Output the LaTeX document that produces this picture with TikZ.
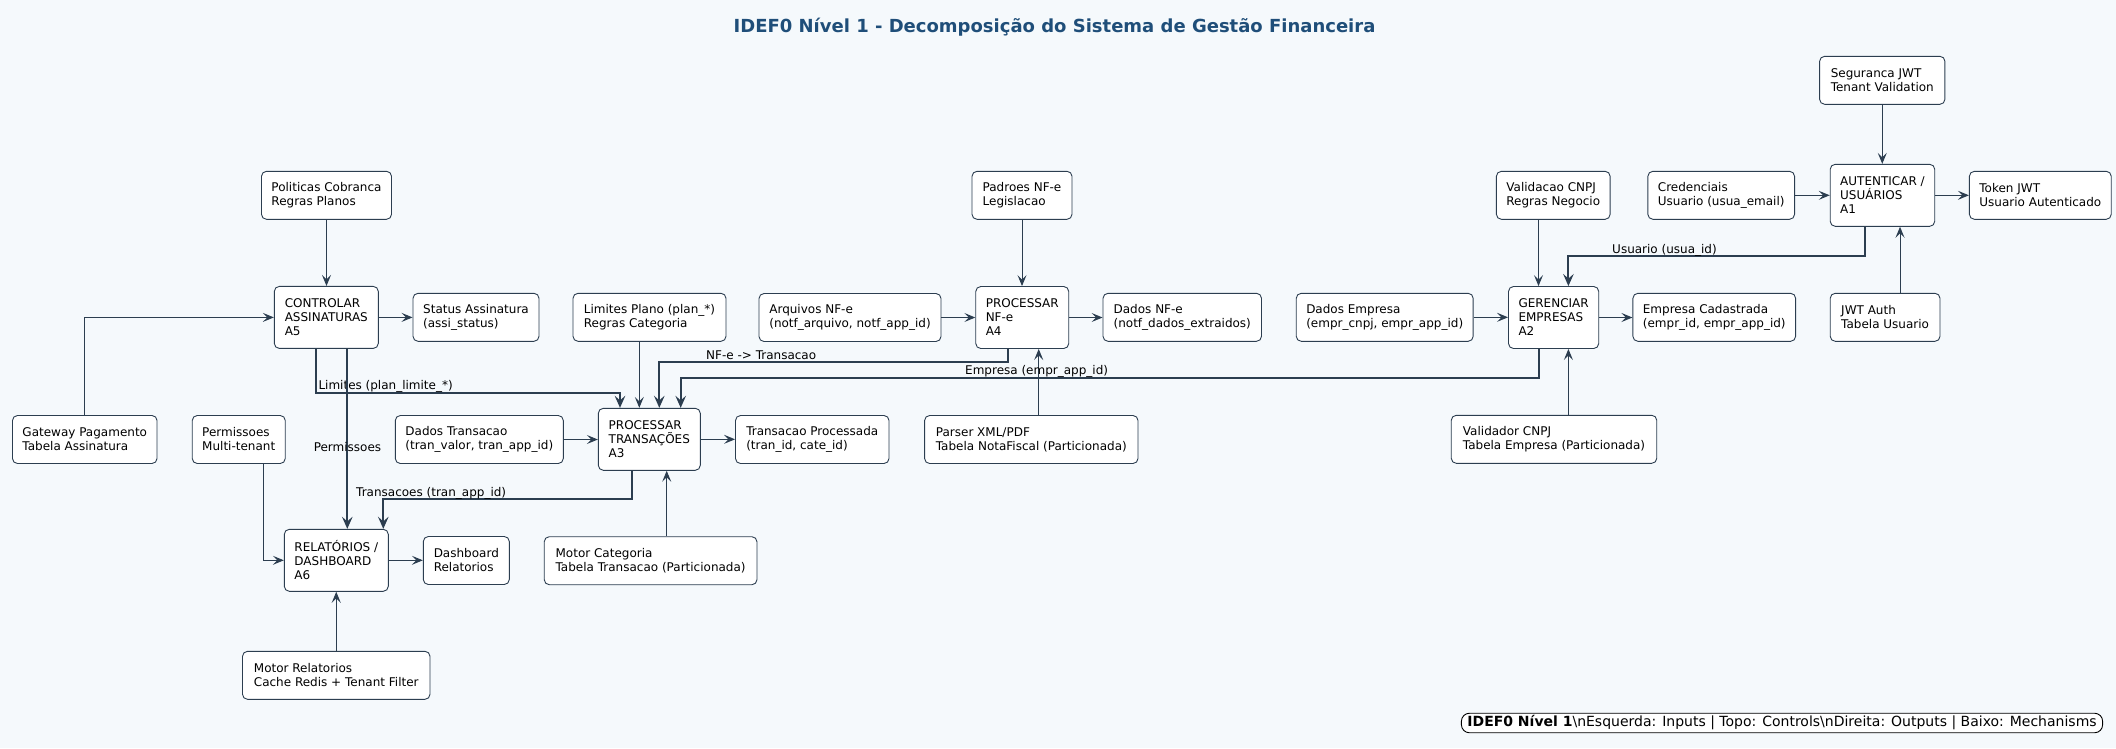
\documentclass[tikz,border=0pt]{standalone}
\usepackage{fontspec}
\setmainfont{DejaVu Sans}
\usetikzlibrary{arrows.meta,calc}
\definecolor{bgc}{HTML}{F5F9FC}
\definecolor{linec}{HTML}{2C3E50}
\definecolor{titlec}{HTML}{1F4E79}
\newcommand{\ibox}[6]{\node[box,minimum width=#4pt,minimum height=#5pt] (#1) at (#2,#3) {#6};}
\begin{document}
\begin{tikzpicture}[x=1pt,y=-1pt,
  box/.style={draw=linec,fill=white,rounded corners=5pt,line width=0.9pt,
    align=left,inner xsep=10pt,inner ysep=3pt,
    font=\fontsize{12}{14}\selectfont,text=black},
  arr/.style={draw=linec,line width=1pt,-{Stealth[length=11pt,width=9pt,inset=4.5pt]}},
  tarr/.style={draw=linec,line width=2pt,-{Stealth[length=12pt,width=10.5pt,inset=4.5pt]}},
  lbl/.style={font=\fontsize{12}{14}\selectfont,text=black,inner sep=0pt},
  legendbox/.style={draw=black,fill=white,rounded corners=8pt,line width=0.9pt,
    inner xsep=6pt,inner ysep=2.5pt,font=\fontsize{14}{16}\selectfont,text=black}]
\fill[bgc] (0,0) rectangle (2116,748);
\useasboundingbox (0,0) rectangle (2116,748);

\node[font=\bfseries\fontsize{18}{22}\selectfont,text=titlec] (title) at (1054.5,27) {IDEF0 Nível 1 - Decomposição do Sistema de Gestão Financeira};

% A5 group
\ibox{pol}{326.5}{195.3}{129}{48}{Politicas Cobranca\\Regras Planos}
\ibox{a5}{326.3}{317.4}{104}{62}{CONTROLAR\\ASSINATURAS\\A5}
\ibox{sta}{476}{317.3}{126}{48}{Status Assinatura\\(assi\_status)}
\ibox{gw}{84.75}{439.5}{144.5}{48}{Gateway Pagamento\\Tabela Assinatura}
\ibox{perm}{238.75}{439.5}{92.5}{48}{Permissoes\\Multi-tenant}
% A6 group
\ibox{a6}{336.3}{560.3}{104}{62}{RELATÓRIOS /\\DASHBOARD\\A6}
\ibox{dash}{466.3}{560.5}{86}{48}{Dashboard\\Relatorios}
\ibox{mr}{336.25}{675.3}{187.5}{48}{Motor Relatorios\\Cache Redis + Tenant Filter}
% A3 group
\ibox{dtr}{479.3}{439.5}{168}{48}{Dados Transacao\\(tran\_valor, tran\_app\_id)}
\ibox{lim}{649.5}{317.3}{153}{48}{Limites Plano (plan\_*)\\Regras Categoria}
\ibox{a3}{649.3}{439.3}{102}{62}{PROCESSAR\\TRANSAÇÕES\\A3}
\ibox{tp}{812.25}{439.5}{153.5}{48}{Transacao Processada\\(tran\_id, cate\_id)}
\ibox{mc}{650.6}{560.7}{212.7}{48}{Motor Categoria\\Tabela Transacao (Particionada)}
% A4 group
\ibox{arq}{850}{317.5}{182}{48}{Arquivos NF-e\\(notf\_arquivo, notf\_app\_id)}
\ibox{pad}{1022}{195.3}{100}{48}{Padroes NF-e\\Legislacao}
\ibox{a4}{1022.25}{317.5}{92.5}{62}{PROCESSAR\\NF-e\\A4}
\ibox{dnf}{1182.25}{317.3}{158.5}{48}{Dados NF-e\\(notf\_dados\_extraidos)}
\ibox{par}{1031.3}{439.5}{213.4}{48}{Parser XML/PDF\\Tabela NotaFiscal (Particionada)}
% A2 group
\ibox{demp}{1384.7}{317.3}{176.6}{48}{Dados Empresa\\(empr\_cnpj, empr\_app\_id)}
\ibox{val}{1553.25}{195.3}{113.5}{48}{Validacao CNPJ\\Regras Negocio}
\ibox{a2}{1553.6}{317.5}{89.8}{62}{GERENCIAR\\EMPRESAS\\A2}
\ibox{ecad}{1714.25}{317.3}{161.5}{48}{Empresa Cadastrada\\(empr\_id, empr\_app\_id)}
\ibox{vdr}{1554}{439.3}{205.5}{48}{Validador CNPJ\\Tabela Empresa (Particionada)}
% A1 group
\ibox{seg}{1882.25}{80.3}{125.3}{48}{Seguranca JWT\\Tenant Validation}
\ibox{a1}{1882.45}{195.3}{104.5}{62}{AUTENTICAR /\\USUÁRIOS\\A1}
\ibox{cred}{1721.2}{195.3}{145.6}{48}{Credenciais\\Usuario (usua\_email)}
\ibox{tok}{2040.3}{195.3}{141.8}{48}{Token JWT\\Usuario Autenticado}
\ibox{jwt}{1885.1}{317.3}{109.8}{48}{JWT Auth\\Tabela Usuario}

% legend
\node[legendbox] (leg) at (1782,723) {\textbf{IDEF0 Nível 1}\textbackslash nEsquerda: Inputs | Topo: Controls\textbackslash nDireita: Outputs | Baixo: Mechanisms};

% A5 connectors
\draw[arr] (pol.south) -- (pol.south |- a5.north);
\draw[arr] (gw.north) |- (a5.west);
\draw[arr] (a5.east) -- (a5.east -| sta.west);
\draw[tarr] ([xshift=-10.3pt]a5.south) -- ++(0,43.7) -| ([xshift=-29.3pt]a3.north);
\node[lbl,anchor=base west] (llim) at (318.3,389.5) {Limites (plan\_limite\_*)};
\draw[tarr] ([xshift=21pt]a5.south) -- ([xshift=21pt]a5.south |- a6.north);
\node[lbl,anchor=base] (lperm) at (347.5,451) {Permissoes};
% A6 connectors
\draw[arr] ([xshift=24.85pt]perm.south) |- (a6.west);
\draw[arr] (a6.east) -- (a6.east -| dash.west);
\draw[arr] (mr.north) -- (mr.north |- a6.south);
\draw[tarr] ([xshift=-17pt]a3.south) -- ++(0,28.7) -| ([xshift=47pt]a6.north);
\node[lbl,anchor=base west] (ltr) at (356,496.5) {Transacoes (tran\_app\_id)};
% A3 connectors
\draw[arr] (dtr.east) -- (dtr.east -| a3.west);
\draw[arr] ([xshift=-10.2pt]lim.south) -- ([xshift=-10.2pt]lim.south |- a3.north);
\draw[arr] (a3.east) -- (a3.east -| tp.west);
\draw[arr] ([xshift=16.1pt]mc.north) -- ([xshift=16.1pt]mc.north |- a3.south);
% A4 connectors
\draw[arr] (arq.east) -- (arq.east -| a4.west);
\draw[arr] (pad.south) -- (pad.south |- a4.north);
\draw[arr] (a4.east) -- (a4.east -| dnf.west);
\draw[tarr] ([xshift=-14.55pt]a4.south) -- ++(0,13.2) -| ([xshift=10pt]a3.north);
\node[lbl,anchor=base west] (lnf) at (706,359.5) {NF-e -> Transacao};
\draw[arr] ([xshift=7.4pt]par.north) -- ([xshift=7.4pt]par.north |- a4.south);
% A2 connectors
\draw[tarr] ([xshift=-14.6pt]a2.south) -- ++(0,28.8) -| ([xshift=31.4pt]a3.north);
\node[lbl,anchor=base west] (lemp) at (965,374.5) {Empresa (empr\_app\_id)};
\draw[arr] (demp.east) -- (demp.east -| a2.west);
\draw[arr] ([xshift=-14.75pt]val.south) -- ([xshift=-14.75pt]val.south |- a2.north);
\draw[arr] (a2.east) -- (a2.east -| ecad.west);
\draw[arr] ([xshift=14.4pt]vdr.north) -- ([xshift=14.4pt]vdr.north |- a2.south);
% A1 connectors
\draw[tarr] ([xshift=-17.05pt]a1.south) -- ++(0,29) -| ([xshift=14.8pt]a2.north);
\node[lbl,anchor=base west] (lusu) at (1612,253) {Usuario (usua\_id)};
\draw[arr] (cred.east) -- (cred.east -| a1.west);
\draw[arr] (seg.south) -- (seg.south |- a1.north);
\draw[arr] (a1.east) -- (a1.east -| tok.west);
\draw[arr] ([xshift=14.9pt]jwt.north) -- ([xshift=14.9pt]jwt.north |- a1.south);
\end{tikzpicture}
\end{document}
